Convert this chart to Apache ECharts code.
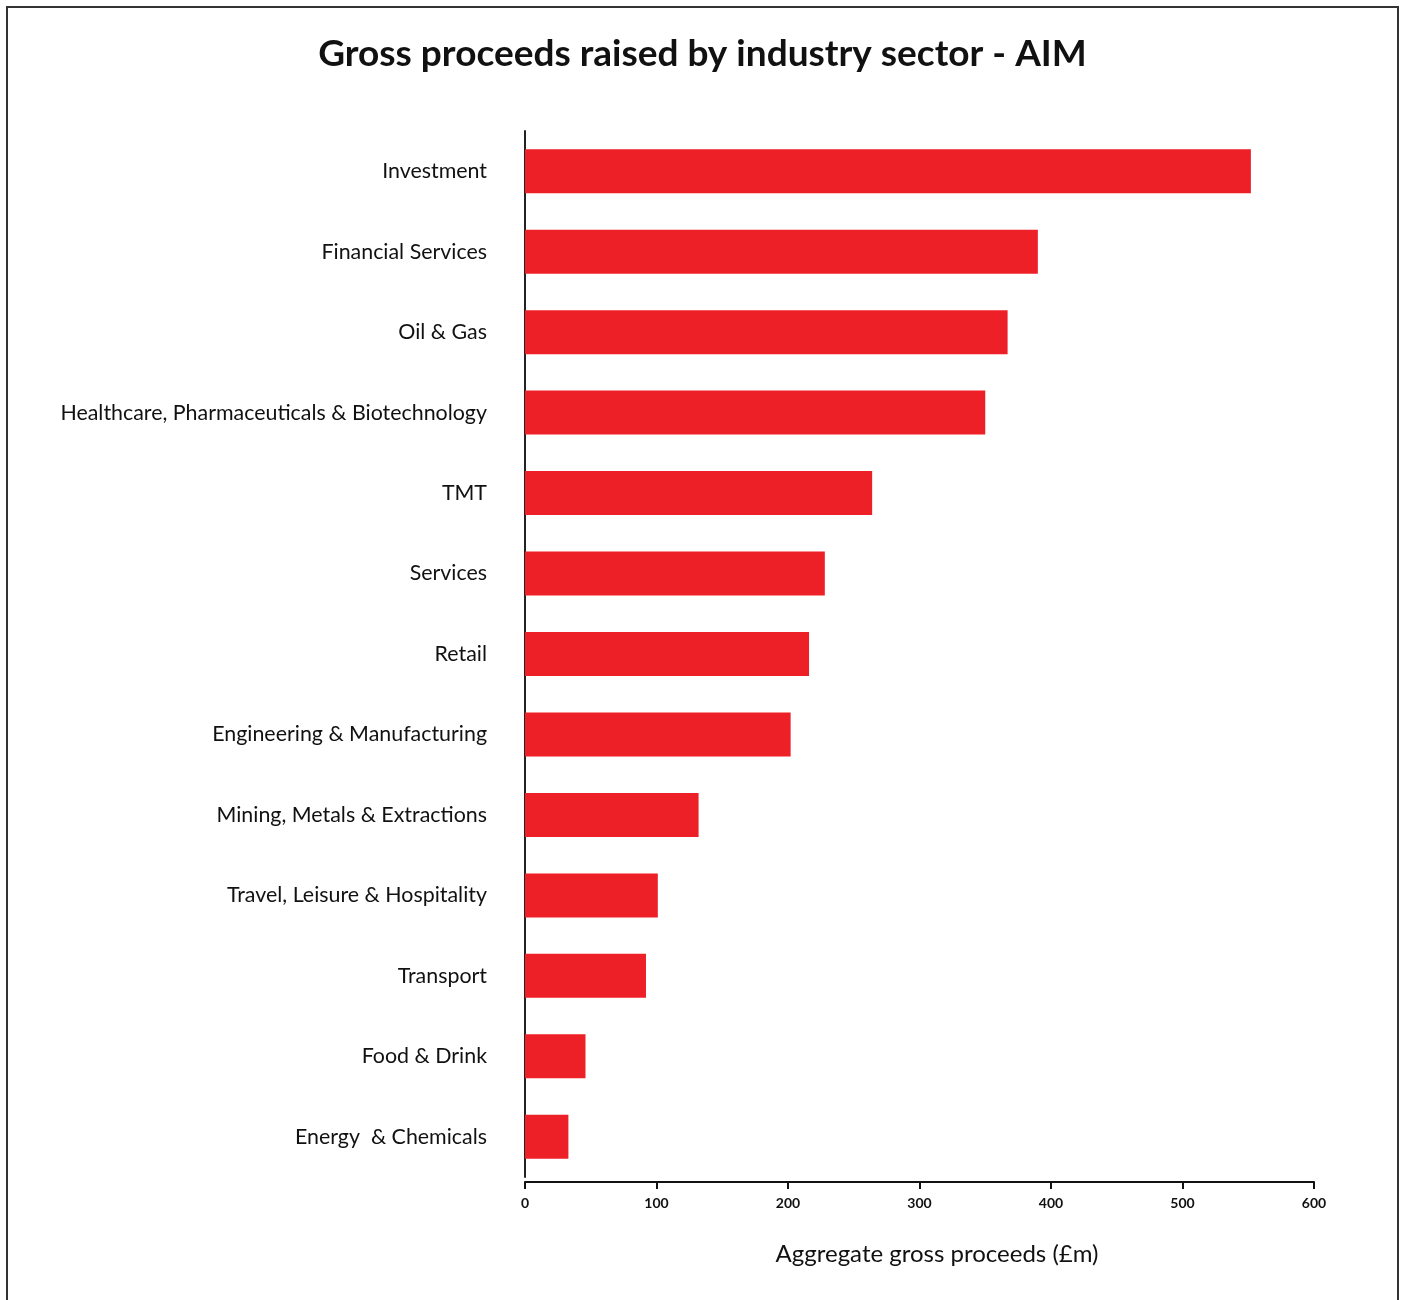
<!DOCTYPE html>
<html>
<head>
<meta charset="utf-8">
<script src="https://cdn.jsdelivr.net/npm/echarts@6/dist/echarts.min.js"></script>
<style>
html,body{margin:0;padding:0;background:#fff;}
#chart{width:1405px;height:1300px;}
</style>
</head>
<body>
<div id="chart"></div>
<script>
const categories = [
  "Investment",
  "Financial Services",
  "Oil & Gas",
  "Healthcare, Pharmaceuticals & Biotechnology",
  "TMT",
  "Services",
  "Retail",
  "Engineering & Manufacturing",
  "Mining, Metals & Extractions",
  "Travel, Leisure & Hospitality",
  "Transport",
  "Food & Drink",
  "Energy  & Chemicals"
];
const proceeds = [552, 390, 367, 350, 264, 228, 216, 202, 132, 101, 92, 46, 33];
const xTicks = [0, 100, 200, 300, 400, 500, 600];

const chart = echarts.init(document.getElementById('chart'));
const font = 'Lato, "Open Sans", "DejaVu Sans", sans-serif';
chart.setOption({
  animation: false,
  backgroundColor: '#fff',
  title: {
    text: 'Gross proceeds raised by industry sector - AIM',
    left: 'center',
    top: 31,
    textStyle: {fontFamily: font, fontWeight: 'bold', fontSize: 37, color: '#111'}
  },
  graphic: [{
    type: 'rect',
    shape: {x: 7, y: 7, width: 1391, height: 1320},
    style: {fill: 'none', stroke: '#333', lineWidth: 2},
    silent: true
  }],
  grid: {left: 525, right: 91, top: 131, height: 1046},
  xAxis: {
    type: 'value',
    min: xTicks[0],
    max: xTicks[xTicks.length - 1],
    interval: 100,
    offset: 5,
    axisLine: {show: true, lineStyle: {color: '#111', width: 2}},
    axisTick: {show: true, length: 7, lineStyle: {color: '#111', width: 2}},
    splitLine: {show: false},
    axisLabel: {fontFamily: font, fontWeight: 'bold', fontSize: 14, color: '#111', margin: 14},
    name: 'Aggregate gross proceeds (£m)',
    nameLocation: 'middle',
    nameGap: 60,
    nameTextStyle: {fontFamily: font, fontSize: 24, color: '#111', padding: [0, 0, 0, 35]}
  },
  yAxis: {
    type: 'category',
    data: categories,
    inverse: true,
    axisLine: {show: true, lineStyle: {color: '#222', width: 2}},
    axisTick: {show: false},
    axisLabel: {fontFamily: font, fontSize: 21.4, color: '#111', margin: 38}
  },
  series: [{
    type: 'bar',
    data: proceeds,
    barWidth: 44,
    itemStyle: {color: '#ED1F27'}
  }]
});
</script>
</body>
</html>
